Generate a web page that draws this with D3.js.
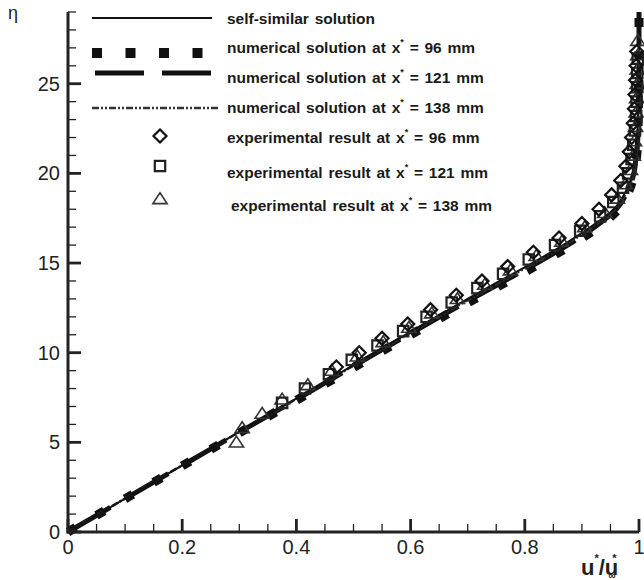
<!DOCTYPE html>
<html>
<head>
<meta charset="utf-8">
<script src="https://cdn.jsdelivr.net/npm/d3@7"></script>
<style>
  body { margin: 0; background: #fff; }
  text { font-family: "Liberation Sans", Arial, sans-serif; }
</style>
</head>
<body>
<svg id="chart" width="644" height="580"></svg>
<script>
// eta grid shared by the computed profiles
const etaGrid = [0, 2, 4, 6, 8, 10, 12, 13, 14, 15, 16, 17, 18, 19, 20, 21, 22, 24, 26, 29];
const selfSimilarU = [0, 0.1075, 0.215, 0.322, 0.43, 0.537, 0.645, 0.70, 0.756, 0.813, 0.867, 0.915, 0.956, 0.977, 0.989, 0.994, 0.997, 0.999, 1.0, 1.0];
const num96U  = [0, 0.108, 0.217, 0.326, 0.436, 0.545, 0.656, 0.713, 0.771, 0.828, 0.881, 0.928, 0.964, 0.982, 0.992, 0.996, 0.998, 0.999, 1.0, 1.0];
const num121U = [0, 0.108, 0.216, 0.324, 0.433, 0.541, 0.651, 0.707, 0.764, 0.821, 0.875, 0.922, 0.960, 0.980, 0.991, 0.995, 0.998, 0.999, 1.0, 1.0];
const num138U = [0, 0.107, 0.215, 0.323, 0.431, 0.539, 0.648, 0.704, 0.760, 0.817, 0.871, 0.918, 0.958, 0.979, 0.990, 0.995, 0.997, 0.999, 1.0, 1.0];

// experimental points
const exp96Eta = [9.2, 10.0, 10.8, 11.6, 12.4, 13.2, 14.0, 14.8, 15.6, 16.4, 17.2, 18.0, 18.8, 19.6, 20.4, 21.2, 22.0, 22.8, 23.6, 24.4, 25.2, 26.0, 26.8];
const exp96U   = [0.47, 0.51, 0.55, 0.595, 0.635, 0.68, 0.725, 0.77, 0.815, 0.86, 0.9, 0.93, 0.952, 0.968, 0.977, 0.983, 0.987, 0.99, 0.992, 0.993, 0.994, 0.995, 0.996];
const exp121Eta = [7.2, 8.0, 8.8, 9.6, 10.4, 11.2, 12.0, 12.8, 13.6, 14.4, 15.2, 16.0, 16.8, 17.6, 18.4, 19.2, 20.0, 20.8, 21.6, 22.4, 23.2, 24.0, 24.8, 25.6, 26.4];
const exp121U   = [0.375, 0.415, 0.457, 0.497, 0.542, 0.587, 0.628, 0.672, 0.717, 0.762, 0.807, 0.853, 0.897, 0.932, 0.955, 0.972, 0.981, 0.987, 0.99, 0.993, 0.995, 0.996, 0.997, 0.997, 0.998];
const exp138Eta = [5.0, 5.8, 6.6, 7.4, 8.2, 9.0, 9.8, 10.6, 11.4, 12.2, 13.0, 13.8, 14.6, 15.4, 16.2, 17.0, 17.8, 18.6, 19.4, 20.2, 21.0, 21.8, 22.6, 23.4, 24.2, 25.0, 25.8, 26.6, 27.4];
const exp138U   = [0.295, 0.305, 0.34, 0.375, 0.42, 0.462, 0.507, 0.552, 0.597, 0.637, 0.682, 0.73, 0.775, 0.82, 0.865, 0.905, 0.94, 0.962, 0.976, 0.985, 0.99, 0.992, 0.994, 0.995, 0.996, 0.997, 0.997, 0.998, 0.998];

const xTicks = [0, 0.2, 0.4, 0.6, 0.8, 1];
const xTickLabels = ["0", "0.2", "0.4", "0.6", "0.8", "1"];
const yTicks = [0, 5, 10, 15, 20, 25];

const svg = d3.select("#chart");
const mLeft = 68, mRight = 639, mTop = 12, mBottom = 532;

const x = d3.scaleLinear().domain([0, 1]).range([mLeft, mRight]);
const y = d3.scaleLinear().domain([0, 29]).range([mBottom, mTop]);

const line = d3.line()
  .x(d => x(d[0]))
  .y(d => y(d[1]))
  .curve(d3.curveMonotoneY);

const zip = (us, etas) => us.map((u, i) => [u, etas[i]]);

// line styles
const styles = {
  ss:   { width: 2, dash: null, color: "#111" },
  n96:  { width: 9, dash: "9,24", color: "#111" },
  n121: { width: 5, dash: "49,18", color: "#111" },
  n138: { width: 2.5, dash: "7,2,2,2,2,2", color: "#333" },
};

const plot = svg.append("g");

function drawLine(data, st) {
  plot.append("path")
    .datum(data)
    .attr("d", line)
    .attr("fill", "none")
    .attr("stroke", st.color)
    .attr("stroke-width", st.width)
    .attr("stroke-dasharray", st.dash);
}

drawLine(zip(num96U, etaGrid), styles.n96);
drawLine(zip(num121U, etaGrid), styles.n121);
drawLine(zip(num138U, etaGrid), styles.n138);
drawLine(zip(selfSimilarU, etaGrid), styles.ss);

// markers
const diamond = s => `M0,${-s} L${s},0 L0,${s} L${-s},0 Z`;
const square = s => `M${-s},${-s} H${s} V${s} H${-s} Z`;
const triangle = s => `M0,${-s} L${s * 1.15},${s * 0.75} L${-s * 1.15},${s * 0.75} Z`;

const markers = {
  e96:  { path: diamond(6.5), width: 2.2, color: "#111" },
  e121: { path: square(5.2), width: 2.2, color: "#222" },
  e138: { path: triangle(6.2), width: 1.6, color: "#333" },
};

function drawMarkers(data, mk) {
  plot.append("g")
    .selectAll("path")
    .data(data)
    .join("path")
    .attr("transform", d => `translate(${x(d[0])},${y(d[1])})`)
    .attr("d", mk.path)
    .attr("fill", "none")
    .attr("stroke", mk.color)
    .attr("stroke-width", mk.width);
}

drawMarkers(zip(exp138U, exp138Eta), markers.e138);
drawMarkers(zip(exp121U, exp121Eta), markers.e121);
drawMarkers(zip(exp96U, exp96Eta), markers.e96);

// axes
const axisColor = "#222";
const ax = svg.append("g");
ax.append("line").attr("x1", mLeft).attr("x2", mLeft).attr("y1", mTop).attr("y2", mBottom + 1.5)
  .attr("stroke", axisColor).attr("stroke-width", 3);
ax.append("line").attr("x1", mLeft - 1.5).attr("x2", mRight).attr("y1", mBottom).attr("y2", mBottom)
  .attr("stroke", axisColor).attr("stroke-width", 3);

// x ticks
x.ticks(25).forEach(v => {
  const major = xTicks.some(t => Math.abs(t - v) < 1e-9);
  ax.append("line")
    .attr("x1", x(v)).attr("x2", x(v))
    .attr("y1", mBottom).attr("y2", mBottom - (major ? 13 : 8))
    .attr("stroke", axisColor).attr("stroke-width", major ? 2.8 : 1.3);
});
xTicks.forEach((v, i) => {
  ax.append("text")
    .attr("x", x(v)).attr("y", 554)
    .attr("text-anchor", "middle")
    .attr("font-size", 20)
    .attr("fill", "#222")
    .text(xTickLabels[i]);
});

// y ticks
d3.range(0, 30).forEach(v => {
  const major = v % 5 === 0;
  ax.append("line")
    .attr("x1", mLeft).attr("x2", mLeft + (major ? 13 : 8))
    .attr("y1", y(v)).attr("y2", y(v))
    .attr("stroke", axisColor).attr("stroke-width", major ? 2.8 : 1.3);
});
yTicks.forEach(v => {
  ax.append("text")
    .attr("x", 60).attr("y", y(v) + 7)
    .attr("text-anchor", "end")
    .attr("font-size", 20)
    .attr("fill", "#222")
    .text(v);
});

// axis titles
svg.append("text")
  .attr("x", 8).attr("y", 19)
  .attr("font-family", "'DejaVu Serif', serif")
  .attr("font-size", 18)
  .attr("fill", "#222")
  .text("η");

const xt = svg.append("text")
  .attr("x", 581).attr("y", 575)
  .attr("font-size", 22)
  .attr("font-weight", "bold")
  .attr("fill", "#222");
xt.append("tspan").text("u");
xt.append("tspan").attr("font-size", 11).attr("dy", -13).text("*");
xt.append("tspan").attr("dy", 13).text("/u");
xt.append("tspan").attr("font-size", 11).attr("dx", -6).attr("dy", -13).text("*");
xt.append("tspan").attr("font-size", 10).attr("dx", -8).attr("dy", 17).text("∞");

// legend
const legendLines = [
  { key: "ss", text: "self-similar solution", y: 18, ty: 18 },
  { key: "n96", text: "numerical solution at x", mm: "96 mm", y: 53, ty: 47 },
  { key: "n121", text: "numerical solution at x", mm: "121 mm", y: 73, ty: 77 },
  { key: "n138", text: "numerical solution at x", mm: "138 mm", y: 108, ty: 107 },
];
const legendMarks = [
  { key: "e96", mm: "96 mm", y: 136, ty: 137, tx: 227 },
  { key: "e121", mm: "121 mm", y: 166, ty: 172, tx: 227 },
  { key: "e138", mm: "138 mm", y: 199, ty: 205, tx: 231 },
];

const lg = svg.append("g");
function legendText(tx, ty, main, mm) {
  const t = lg.append("text")
    .attr("x", tx).attr("y", ty + 5.5)
    .attr("font-size", 15.5)
    .attr("font-weight", "bold")
    .attr("word-spacing", 1.5)
    .attr("fill", "#1a1a1a");
  t.append("tspan").text(main);
  if (mm) {
    t.append("tspan").attr("font-size", 9).attr("dy", -8).text("*");
    t.append("tspan").attr("dy", 8).text(" = " + mm);
  }
}

legendLines.forEach(d => {
  const st = styles[d.key];
  const x1 = d.key === "n96" ? 92 : (d.key === "n121" ? 95 : 92);
  const x2 = d.key === "n138" ? 218 : 212;
  lg.append("line")
    .attr("x1", x1).attr("x2", x2)
    .attr("y1", d.y).attr("y2", d.y)
    .attr("stroke", st.color)
    .attr("stroke-width", d.key === "n96" ? 10 : st.width)
    .attr("stroke-dasharray", d.key === "n96" ? "10,23.5" : st.dash);
  legendText(227, d.ty, d.text, d.mm);
});
legendMarks.forEach(d => {
  const mk = markers[d.key];
  lg.append("path")
    .attr("transform", `translate(160,${d.y})`)
    .attr("d", mk.path)
    .attr("fill", "none")
    .attr("stroke", mk.color)
    .attr("stroke-width", mk.width);
  legendText(d.tx, d.ty, "experimental result at x", d.mm);
});
</script>
</body>
</html>
